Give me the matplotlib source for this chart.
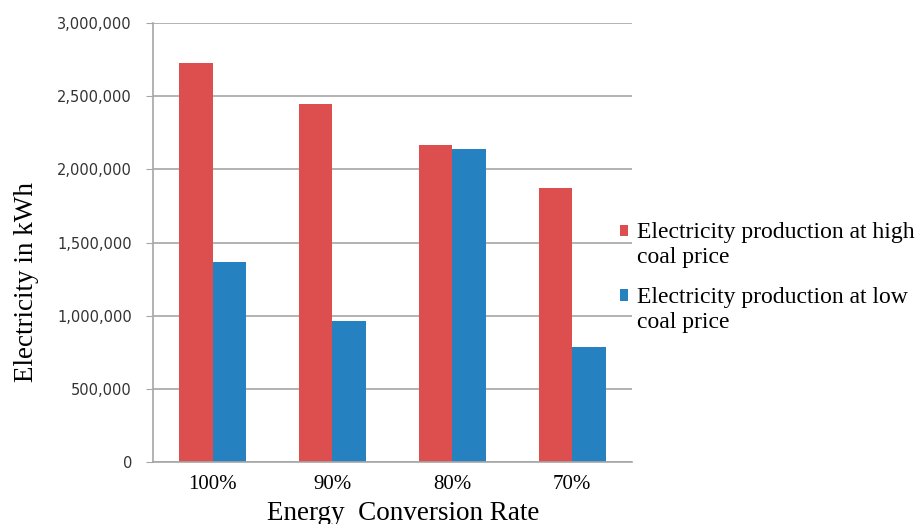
import numpy as np
import matplotlib.pyplot as plt
from matplotlib.ticker import FuncFormatter
from matplotlib.patches import Rectangle
from matplotlib.legend_handler import HandlerPatch

rates = ['100%', '90%', '80%', '70%']
high_price = [2726000, 2447000, 2167000, 1871000]
low_price = [1366000, 962000, 2137000, 786000]
labels = ['Electricity production at high\ncoal price',
          'Electricity production at low\ncoal price']

red = '#dd4f4e'
blue = '#2681c1'
grid_col = '#a6a6a6'
serif = 'Liberation Serif'


# legend square sits on the first line of a two-line label
def top_square(legend, orig_handle, xdescent, ydescent, width, height, fontsize):
    return Rectangle((-xdescent, -ydescent + 0.62 * fontsize), width, height)


fig = plt.figure(figsize=(9.2, 5.24), dpi=100)
ax = fig.add_axes([0.166, 0.118, 0.521, 0.838])

x = np.arange(len(rates))
w = 0.28
b1 = ax.bar(x - w / 2, high_price, w, color=red, zorder=3)
b2 = ax.bar(x + w / 2, low_price, w, color=blue, zorder=3)

ax.set_xlim(-0.5, len(rates) - 0.5)
ax.set_ylim(0, 3000000)
ax.set_yticks(np.arange(0, 3000001, 500000))
ax.yaxis.set_major_formatter(FuncFormatter(lambda v, p: f'{int(v):,}'))
ax.grid(axis='y', color=grid_col, linewidth=1.2, zorder=0)

for s in ['top', 'right']:
    ax.spines[s].set_visible(False)
for s in ['left', 'bottom']:
    ax.spines[s].set_color(grid_col)
    ax.spines[s].set_linewidth(1.2)
ax.spines['bottom'].set_zorder(4)

ax.tick_params(axis='y', length=5, color=grid_col, labelsize=10.5,
               labelcolor='#333333', pad=10)
ax.tick_params(axis='x', length=0, pad=9)
ax.set_xticks(x)
ax.set_xticklabels(rates, fontfamily=serif, fontsize=15)

ax.set_xlabel('Energy  Conversion Rate', fontfamily=serif, fontsize=19.5)
ax.xaxis.set_label_coords(0.522, -0.088)
ax.set_ylabel('Electricity in kWh', fontfamily=serif, fontsize=19.5)
ax.yaxis.set_label_coords(-0.238, 0.41)

h1, h2 = b1.patches[0], b2.patches[0]
leg = fig.legend(handles=[h1, h2], labels=labels, loc='center left',
                 bbox_to_anchor=(0.674, 0.470),
                 frameon=False, prop={'family': serif, 'size': 17},
                 handlelength=0.35, handleheight=0.35, handletextpad=0.35,
                 labelspacing=0.8, borderpad=0, borderaxespad=0,
                 handler_map={h1: HandlerPatch(patch_func=top_square),
                              h2: HandlerPatch(patch_func=top_square)})
for t in leg.get_texts():
    t.set_linespacing(1.25)

fig.savefig('out.png', dpi=100)
